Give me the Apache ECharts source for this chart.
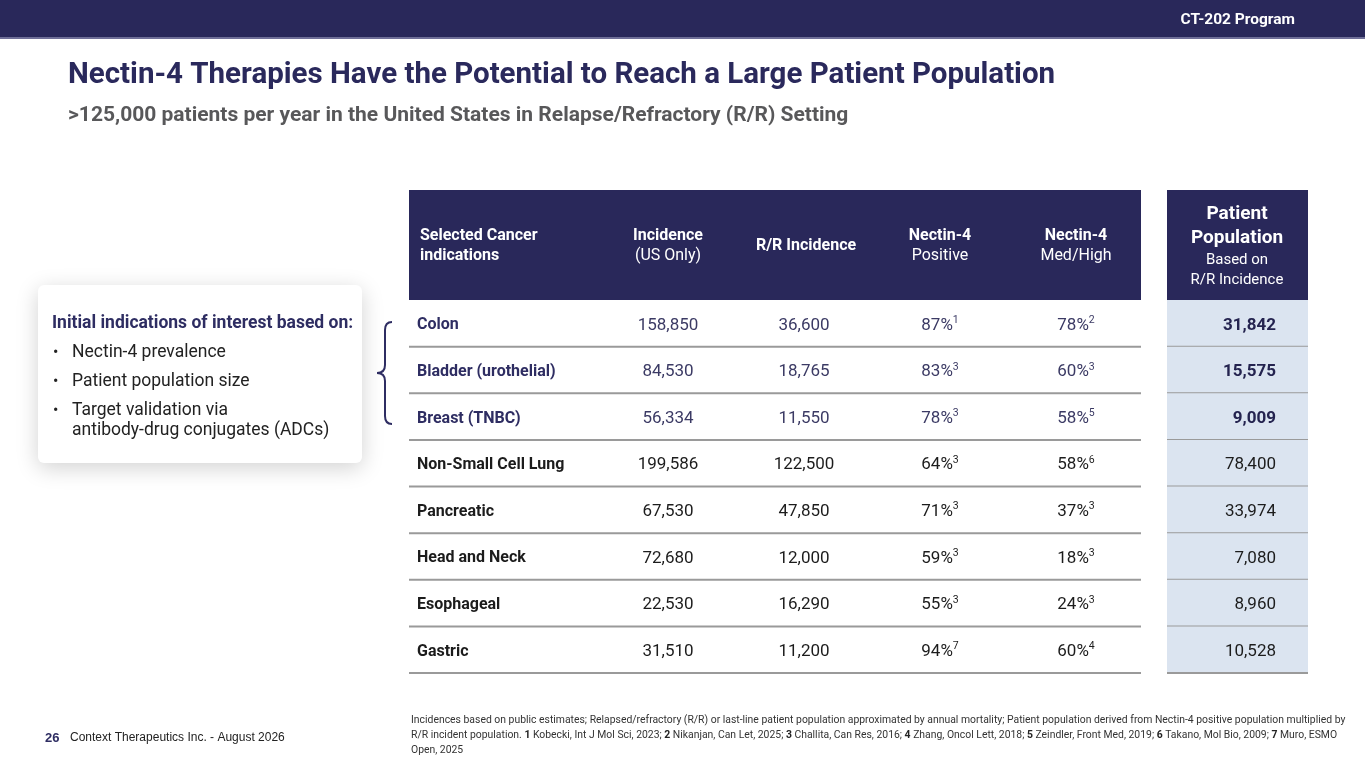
<!DOCTYPE html>
<html>
<head>
<meta charset="utf-8">
<title>Nectin-4 Patient Population</title>
<script src="https://cdn.jsdelivr.net/npm/echarts@6/dist/echarts.min.js"></script>
<style>html,body{margin:0;padding:0;background:#fff}#main{width:1365px;height:768px}</style>
</head>
<body>
<div id="main"></div>
<script>
var indications = ['Colon', 'Bladder (urothelial)', 'Breast (TNBC)', 'Non-Small Cell Lung', 'Pancreatic', 'Head and Neck', 'Esophageal', 'Gastric'];
var incidence = [158850, 84530, 56334, 199586, 67530, 72680, 22530, 31510];
var rrIncidence = [36600, 18765, 11550, 122500, 47850, 12000, 16290, 11200];
var positivePct = [87, 83, 78, 64, 71, 59, 55, 94];
var positiveRef = [1, 3, 3, 3, 3, 3, 3, 7];
var medHighPct = [78, 60, 58, 58, 37, 18, 24, 60];
var medHighRef = [2, 3, 5, 6, 3, 3, 3, 4];
var patientPop = [31842, 15575, 9009, 78400, 33974, 7080, 8960, 10528];
var initialCount = 3; // first rows = initial indications of interest

var NAVY = '#2a295c';
var INK = '#1c1c1c';
var FONT = 'Roboto';

var chart = echarts.init(document.getElementById('main'));

function fmt(v) { return v.toLocaleString('en-US'); }

// one custom series per table column, rows placed by the category y axis
function column(name, xPos, align, textFn, styleFn) {
    return {
        type: 'custom', name: name, silent: true,
        data: indications.map(function (n, i) { return [xPos, i]; }),
        renderItem: function (params, api) {
            var i = params.dataIndex;
            var p = api.coord([api.value(0), api.value(1)]);
            var s = styleFn(i);
            return {
                type: 'text', x: p[0], y: p[1] + 2,
                style: Object.assign({
                    text: textFn(i), align: align, verticalAlign: 'middle',
                    fontFamily: FONT, fontSize: 17
                }, s)
            };
        }
    };
}

function pctText(vals, refs) {
    return function (i) { return '{p|' + vals[i] + '%}{s|' + refs[i] + '}'; };
}
function pctStyle(i) {
    var c = i < initialCount ? '#3b3a64' : INK;
    return {
        fill: c,
        rich: {
            p: { fontFamily: FONT, fontSize: 17, fill: c, color: c },
            s: { fontFamily: FONT, fontSize: 10.5, fill: c, color: c, verticalAlign: 'top', padding: [0, 0, 10, 0] }
        }
    };
}

var hdrRich = {
    b: { fontFamily: FONT, fontSize: 16, fontWeight: 'bold', fill: '#fff', color: '#fff', lineHeight: 20 },
    r: { fontFamily: FONT, fontSize: 16, fill: '#fff', color: '#fff', lineHeight: 20 }
};

var option = {
    backgroundColor: '#ffffff',
    animation: false,
    title: [
        { text: 'Nectin-4 Therapies Have the Potential to Reach a Large Patient Population', left: 63, top: 56,
          textStyle: { fontFamily: FONT, fontSize: 29.5, fontWeight: 'bold', color: NAVY } },
        { text: '>125,000 patients per year in the United States in Relapse/Refractory (R/R) Setting', left: 63, top: 100,
          textStyle: { fontFamily: FONT, fontSize: 21, fontWeight: 'bold', color: '#58585a' } }
    ],
    grid: { left: 0, right: 0, top: 300, height: 373 },
    xAxis: { type: 'value', min: 0, max: 1365, show: false },
    yAxis: { type: 'category', data: indications, inverse: true, show: false },
    series: [
        {
            type: 'custom', name: 'rules', silent: true,
            data: indications.map(function (n, i) { return [0, i]; }),
            renderItem: function (params, api) {
                var p = api.coord([0, api.value(1)]);
                var h = api.size([0, 1])[1];
                var top = p[1] - h / 2, bot = p[1] + h / 2;
                return {
                    type: 'group',
                    children: [
                        { type: 'rect', shape: { x: 1167, y: top, width: 141, height: h }, style: { fill: '#dbe4f0' } },
                        { type: 'rect', shape: { x: 409, y: bot - 1, width: 732, height: 2 }, style: { fill: '#9a9a9a' } },
                        { type: 'rect', shape: { x: 1167, y: bot - 1, width: 141, height: 2 }, style: { fill: '#9a9a9a' } }
                    ]
                };
            }
        },
        column('indication', 417, 'left', function (i) { return indications[i]; }, function (i) {
            return { fill: i < initialCount ? '#2e2d62' : INK, fontWeight: 'bold', fontSize: 16 };
        }),
        column('incidence', 668, 'center', function (i) { return fmt(incidence[i]); }, function (i) {
            return { fill: i < initialCount ? '#3b3a64' : INK };
        }),
        column('rr', 804, 'center', function (i) { return fmt(rrIncidence[i]); }, function (i) {
            return { fill: i < initialCount ? '#3b3a64' : INK };
        }),
        column('positive', 940, 'center', pctText(positivePct, positiveRef), pctStyle),
        column('medhigh', 1076, 'center', pctText(medHighPct, medHighRef), pctStyle),
        column('population', 1276, 'right', function (i) { return fmt(patientPop[i]); }, function (i) {
            return i < initialCount ? { fill: '#24234f', fontWeight: 'bold' } : { fill: INK };
        })
    ],
    graphic: [
        // top bar
        { type: 'rect', shape: { x: 0, y: 0, width: 1365, height: 38 }, style: { fill: '#29285a' } },
        { type: 'rect', shape: { x: 0, y: 37, width: 1365, height: 2 }, style: { fill: '#6f6f98' } },
        { type: 'text', x: 1295, y: 20, style: { text: 'CT-202 Program', align: 'right', verticalAlign: 'middle', fill: '#fff', fontFamily: FONT, fontSize: 15.5, fontWeight: 'bold' } },

        // table header
        { type: 'rect', shape: { x: 409, y: 190, width: 732, height: 110 }, style: { fill: '#29285a' } },
        { type: 'rect', shape: { x: 1167, y: 190, width: 141, height: 110 }, style: { fill: '#29285a' } },
        { type: 'text', x: 420, y: 246, style: { text: 'Selected Cancer\nindications', align: 'left', verticalAlign: 'middle', lineHeight: 20, fill: '#fff', fontFamily: FONT, fontSize: 16, fontWeight: 'bold' } },
        { type: 'text', x: 668, y: 246, style: { text: '{b|Incidence}\n{r|(US Only)}', align: 'center', verticalAlign: 'middle', fill: '#fff', rich: hdrRich } },
        { type: 'text', x: 806, y: 246, style: { text: 'R/R Incidence', align: 'center', verticalAlign: 'middle', fill: '#fff', fontFamily: FONT, fontSize: 16, fontWeight: 'bold' } },
        { type: 'text', x: 940, y: 246, style: { text: '{b|Nectin-4}\n{r|Positive}', align: 'center', verticalAlign: 'middle', fill: '#fff', rich: hdrRich } },
        { type: 'text', x: 1076, y: 246, style: { text: '{b|Nectin-4}\n{r|Med/High}', align: 'center', verticalAlign: 'middle', fill: '#fff', rich: hdrRich } },
        { type: 'text', x: 1237, y: 246, style: { text: '{b|Patient}\n{b|Population}\n{r|Based on}\n{r|R/R Incidence}', align: 'center', verticalAlign: 'middle', fill: '#fff',
            rich: { b: { fontFamily: FONT, fontSize: 19, fontWeight: 'bold', fill: '#fff', color: '#fff', lineHeight: 24 }, r: { fontFamily: FONT, fontSize: 15, fill: '#fff', color: '#fff', lineHeight: 20 } } } },

        // call-out box
        { type: 'rect', shape: { x: 38, y: 285, width: 324, height: 178, r: 6 }, style: { fill: '#fff', shadowBlur: 22, shadowOffsetY: 5, shadowColor: 'rgba(0,0,0,0.18)' } },
        { type: 'text', x: 52, y: 324, style: { text: 'Initial indications of interest based on:', verticalAlign: 'middle', fill: '#2e2d62', fontFamily: FONT, fontSize: 17.5, fontWeight: 'bold' } },
        { type: 'text', x: 53, y: 353, style: { text: '\u2022', verticalAlign: 'middle', fill: '#222', fontFamily: FONT, fontSize: 16 } },
        { type: 'text', x: 72, y: 353, style: { text: 'Nectin-4 prevalence', verticalAlign: 'middle', fill: '#222', fontFamily: FONT, fontSize: 17.5 } },
        { type: 'text', x: 53, y: 382, style: { text: '\u2022', verticalAlign: 'middle', fill: '#222', fontFamily: FONT, fontSize: 16 } },
        { type: 'text', x: 72, y: 382, style: { text: 'Patient population size', verticalAlign: 'middle', fill: '#222', fontFamily: FONT, fontSize: 17.5 } },
        { type: 'text', x: 53, y: 411, style: { text: '\u2022', verticalAlign: 'middle', fill: '#222', fontFamily: FONT, fontSize: 16 } },
        { type: 'text', x: 72, y: 421, style: { text: 'Target validation via\nantibody-drug conjugates (ADCs)', verticalAlign: 'middle', lineHeight: 20, fill: '#222', fontFamily: FONT, fontSize: 17.5 } },

        // bracket
        { type: 'bezierCurve', shape: { x1: 392, y1: 322, cpx1: 385, cpy1: 322, x2: 385, y2: 330 }, style: { fill: null, stroke: '#2e2d62', lineWidth: 2 } },
        { type: 'line', shape: { x1: 385, y1: 330, x2: 385, y2: 365 }, style: { stroke: '#2e2d62', lineWidth: 2 } },
        { type: 'bezierCurve', shape: { x1: 385, y1: 365, cpx1: 385, cpy1: 373, x2: 377, y2: 373 }, style: { fill: null, stroke: '#2e2d62', lineWidth: 2 } },
        { type: 'bezierCurve', shape: { x1: 377, y1: 373, cpx1: 385, cpy1: 373, x2: 385, y2: 381 }, style: { fill: null, stroke: '#2e2d62', lineWidth: 2 } },
        { type: 'line', shape: { x1: 385, y1: 381, x2: 385, y2: 416 }, style: { stroke: '#2e2d62', lineWidth: 2 } },
        { type: 'bezierCurve', shape: { x1: 385, y1: 416, cpx1: 385, cpy1: 424, x2: 392, y2: 424 }, style: { fill: null, stroke: '#2e2d62', lineWidth: 2 } },

        // footer
        { type: 'text', x: 45, y: 738, style: { text: '26', verticalAlign: 'middle', fill: '#2e2d62', fontFamily: 'Liberation Sans', fontSize: 13, fontWeight: 'bold' } },
        { type: 'text', x: 70, y: 738, style: { text: 'Context Therapeutics Inc. - August 2026', verticalAlign: 'middle', fill: '#222', fontFamily: 'Liberation Sans', fontSize: 12 } },
        { type: 'text', x: 411, y: 713, style: {
            text: 'Incidences based on public estimates; Relapsed/refractory (R/R) or last-line patient population approximated by annual mortality; Patient population derived from Nectin-4 positive population multiplied by\n' +
                  'R/R incident population. {b|1} Kobecki, Int J Mol Sci, 2023; {b|2} Nikanjan, Can Let, 2025; {b|3} Challita, Can Res, 2016; {b|4} Zhang, Oncol Lett, 2018; {b|5} Zeindler, Front Med, 2019; {b|6} Takano, Mol Bio, 2009; {b|7} Muro, ESMO\n' +
                  'Open, 2025',
            verticalAlign: 'top', fill: '#333', fontFamily: FONT, fontSize: 10.4, lineHeight: 15,
            rich: { b: { fontFamily: FONT, fontSize: 10.4, fontWeight: 'bold', fill: '#222', color: '#222', lineHeight: 15 } } } }
    ]
};

chart.setOption(option);
</script>
</body>
</html>
